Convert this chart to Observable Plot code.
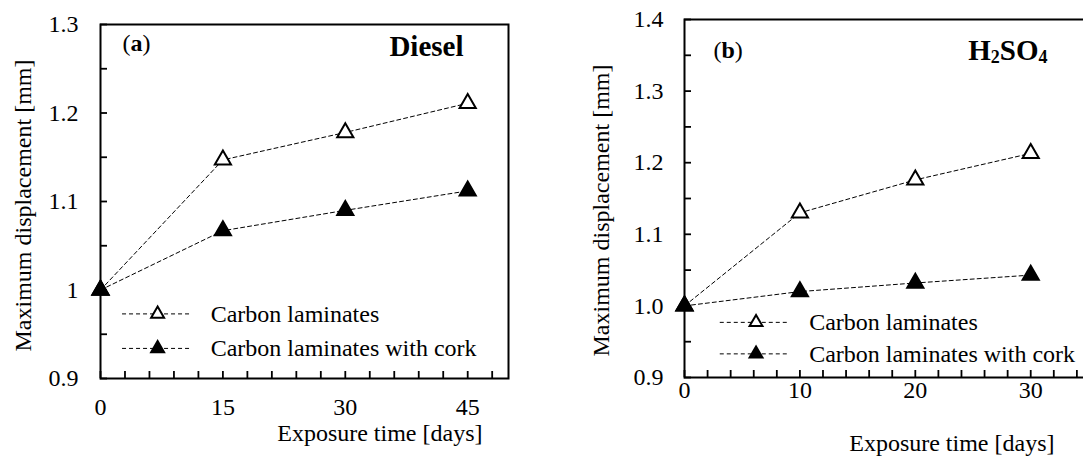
<!DOCTYPE html>
<html><head><meta charset="utf-8">
<script src="https://cdn.jsdelivr.net/npm/d3@7"></script>
<script src="https://cdn.jsdelivr.net/npm/@observablehq/plot@0.6"></script>
<style>
html,body{margin:0;padding:0;background:#fff;overflow:hidden;width:1083px;height:456px;position:relative;}
#a,#b{position:absolute;top:0;width:600px;height:456px;}
#a{left:0;} #b{left:540px;}
svg{max-width:none !important;}
svg, svg text{font-family:"Liberation Serif","Times New Roman",serif !important;}
</style></head><body>
<div id="b"></div><div id="a"></div>
<script>
// ---- data ----
const seriesNames = ["Carbon laminates", "Carbon laminates with cork"];
const daysA = [0, 15, 30, 45];
const carbonA = [1.0, 1.147, 1.178, 1.211];
const corkA = [1.0, 1.067, 1.090, 1.112];
const daysB = [0, 10, 20, 30];
const carbonB = [1.0, 1.130, 1.176, 1.213];
const corkB = [1.0, 1.020, 1.032, 1.043];
const xTicksA = [0, 15, 30, 45];
const xTicksB = [0, 10, 20, 30];
const yTicksA = [0.9, 1.0, 1.1, 1.2, 1.3];
const yLabelsA = ["0.9", "1", "1.1", "1.2", "1.3"];
const yTicksB = [0.9, 1.0, 1.1, 1.2, 1.3, 1.4];
const yLabelsB = ["0.9", "1.0", "1.1", "1.2", "1.3", "1.4"];
const xTitle = "Exposure time [days]";
const yTitle = "Maximum displacement [mm]";

function panel(o) {
  const rowsC = o.days.map((d, i) => ({x: d, y: o.carbon[i]}));
  const rowsK = o.days.map((d, i) => ({x: d, y: o.cork[i]}));
  const dash = "4,3";
  const fs = 24;
  const minorX = d3.range(o.xDomain[0], o.xDomain[1] + 1e-9, o.xMinor);
  const minorY = d3.range(0, Math.round((o.yDomain[1] - o.yDomain[0]) / 0.05) + 1).map(k => o.yDomain[0] + k * 0.05);
  const L = o.legend;
  const legC = [{y: L.y[0]}], legK = [{y: L.y[1]}];
  return Plot.plot({
    width: o.width, height: 456,
    marginLeft: o.ml, marginRight: o.mr, marginTop: o.mt, marginBottom: o.mb,
    x: {domain: o.xDomain},
    y: {domain: o.yDomain},
    style: {fontFamily: "Liberation Serif", fontSize: fs + "px", color: "#000", background: "transparent", maxWidth: "none"},
    marks: [
      Plot.axisX(minorX, {tickSize: 7, dy: -7, tickFormat: () => "", strokeWidth: 1.8, label: null}),
      Plot.axisY(minorY, {tickSize: 7, dx: 7, tickFormat: () => "", strokeWidth: 1.8, label: null}),
      Plot.axisX(o.xTicks, {tickSize: 0, tickPadding: o.xPad, fontSize: fs, label: null}),
      Plot.axisY(o.yTicks, {tickSize: 0, tickPadding: o.yPad, fontSize: fs, label: null, tickFormat: (d, i) => o.yLabels[i]}),
      Plot.line(rowsC, {x: "x", y: "y", stroke: "#000", strokeWidth: 1, strokeDasharray: dash}),
      Plot.line(rowsK, {x: "x", y: "y", stroke: "#000", strokeWidth: 1, strokeDasharray: dash}),
      Plot.dot(rowsC, {x: "x", y: "y", symbol: "triangle", r: 6, fill: "#fff", stroke: "#000", strokeWidth: 2}),
      Plot.dot(rowsK, {x: "x", y: "y", symbol: "triangle", r: 6, fill: "#000", stroke: "#000", strokeWidth: 2}),
      Plot.frame({stroke: "#000", strokeWidth: 2}),
      // legend
      Plot.ruleY(legC, {y: "y", x1: L.x1, x2: L.x2, stroke: "#000", strokeWidth: 1, strokeDasharray: dash}),
      Plot.ruleY(legK, {y: "y", x1: L.x1, x2: L.x2, stroke: "#000", strokeWidth: 1, strokeDasharray: dash}),
      Plot.dot(legC, {x: () => L.xm, y: "y", symbol: "triangle", r: 4.8, fill: "#fff", stroke: "#000", strokeWidth: 2}),
      Plot.dot(legK, {x: () => L.xm, y: "y", symbol: "triangle", r: 4.8, fill: "#000", stroke: "#000", strokeWidth: 2}),
      Plot.text(legC, {x: () => L.xt, y: "y", text: () => seriesNames[0], textAnchor: "start", fontSize: fs, fill: "#000"}),
      Plot.text(legK, {x: () => L.xt, y: "y", text: () => seriesNames[1], textAnchor: "start", fontSize: fs, fill: "#000"}),
      // annotations
      Plot.text([o.tag], {frameAnchor: "top-left", dx: o.tagDx, dy: o.tagDy, textAnchor: "start", lineAnchor: "middle", fontSize: fs, fill: "#000"}),
      Plot.text([o.title], {frameAnchor: "top-left", dx: o.titleDx, dy: o.titleDy, textAnchor: "end", lineAnchor: "middle", fontSize: o.titleFs, fontWeight: "bold", fill: "#000"}),
      Plot.text([yTitle], {frameAnchor: "left", dx: o.yTitleDx, dy: o.yTitleDy, rotate: -90, textAnchor: "middle", lineAnchor: "middle", fontSize: fs, fill: "#000"}),
      Plot.text([xTitle], {frameAnchor: "bottom-left", dx: o.xTitleDx, dy: o.xTitleDy, textAnchor: "end", lineAnchor: "middle", fontSize: fs, fill: "#000"})
    ]
  });
}

const pa = panel({
  days: daysA, carbon: carbonA, cork: corkA,
  width: 540, ml: 100, mr: 32, mt: 24, mb: 78,
  xDomain: [0, 50], yDomain: [0.9, 1.3], xMinor: 3,
  xTicks: xTicksA, yTicks: yTicksA, yLabels: yLabelsA, xPad: 19, yPad: 22,
  legend: {x1: 2.7, x2: 11.0, xm: 7.0, xt: 13.5, y: [0.973, 0.934]},
  tag: "(a)", tagDx: 22, tagDy: 19,
  title: "Diesel", titleDx: 363, titleDy: 22, titleFs: 29,
  yTitleDx: -77, yTitleDy: 4,
  xTitleDx: 382, xTitleDy: 55
});
const pb = panel({
  days: daysB, carbon: carbonB, cork: corkB,
  width: 571, ml: 144, mr: 0, mt: 19, mb: 79,
  xDomain: [0, 37], yDomain: [0.9, 1.4], xMinor: 2,
  xTicks: xTicksB, yTicks: yTicksB, yLabels: yLabelsB, xPad: 3, yPad: 21,
  legend: {x1: 3.1, x2: 9.0, xm: 6.2, xt: 10.8, y: [0.977, 0.933]},
  tag: "(b)", tagDx: 29, tagDy: 31,
  title: "H2SO4", titleDx: 363, titleDy: 31, titleFs: 29,
  yTitleDx: -83, yTitleDy: 12,
  xTitleDx: 370, xTitleDy: 66
});
document.getElementById("a").appendChild(pa);
document.getElementById("b").appendChild(pb);

// rich text tweaks
document.querySelectorAll("text").forEach(t => {
  const s = t.textContent;
  if (s === "(a)" || s === "(b)") {
    t.innerHTML = "(<tspan font-weight='bold'>" + s[1] + "</tspan>)";
  } else if (s === "H2SO4") {
    t.innerHTML = "H<tspan font-size='18' dy='3'>2</tspan><tspan dy='-3'>SO</tspan><tspan font-size='18' dy='3'>4</tspan>";
  }
});
</script>
</body></html>
